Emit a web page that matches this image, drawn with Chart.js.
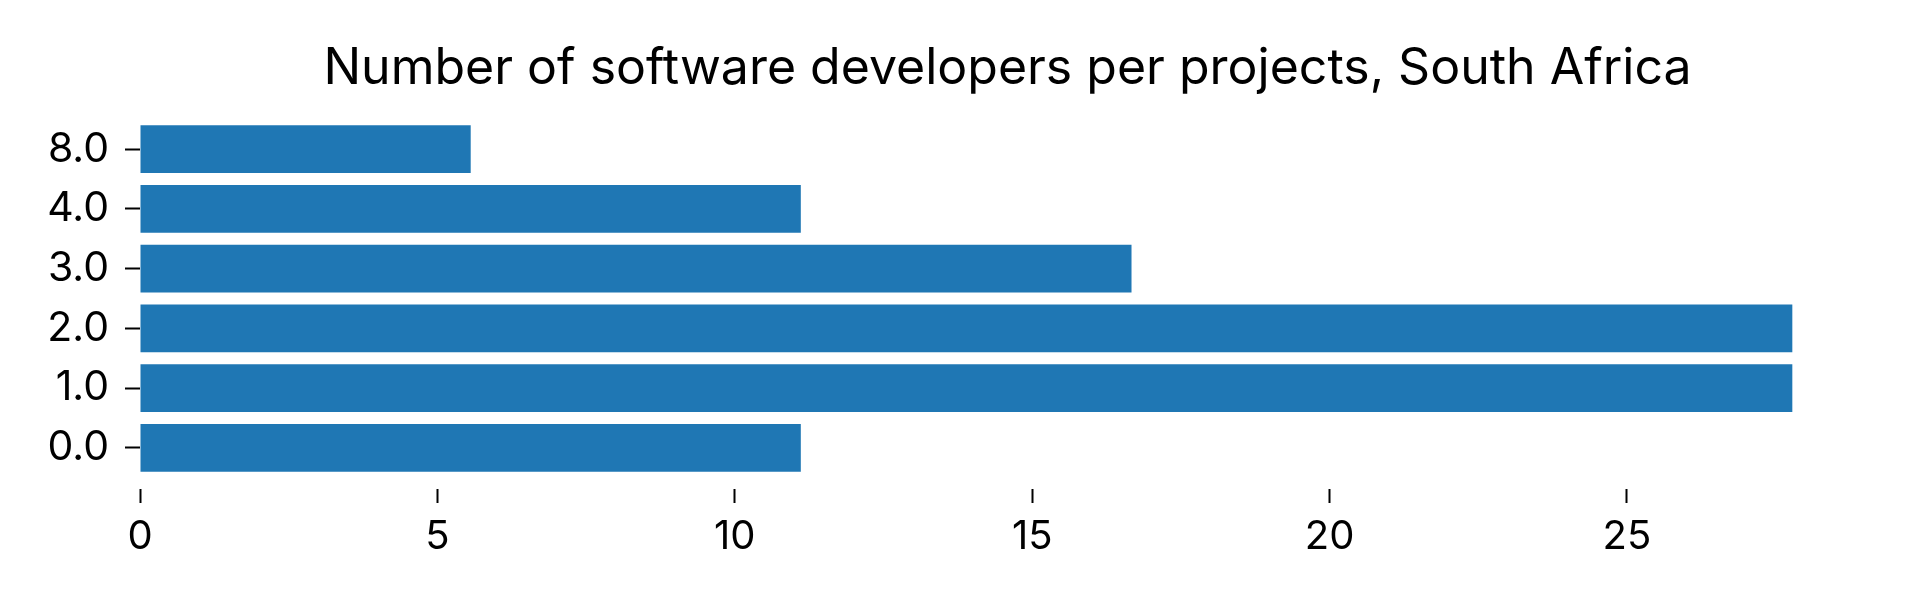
<!DOCTYPE html>
<html>
<head>
<meta charset="utf-8">
<script src="https://cdn.jsdelivr.net/npm/chart.js@4.4.0/dist/chart.umd.min.js"></script>
<style>
    html, body { margin: 0; padding: 0; background: #fff; }
    #wrap { width: 1920px; height: 600px; }
</style>
</head>
<body>
<div id="wrap"><canvas id="chart" width="1920" height="600"></canvas></div>
<script>
// Data (share of developers, %)
const categories = ['0.0', '1.0', '2.0', '3.0', '4.0', '8.0'];
const values = [11.11, 27.78, 27.78, 16.67, 11.11, 5.56];
const xTicks = [0, 5, 10, 15, 20, 25];
const titleText = 'Number of software developers per projects, South Africa';

const FONT = 'Inter, "Noto Sans", sans-serif';

// bars placed at category index on a linear y axis (matplotlib-like margins)
const points = values.map((v, i) => ({ x: v, y: i }));

new Chart(document.getElementById('chart'), {
    type: 'bar',
    data: {
        datasets: [{
            data: points,
            backgroundColor: '#1f77b4',
            borderWidth: 0,
            categoryPercentage: 0.8,
            barPercentage: 1.0
        }]
    },
    options: {
        indexAxis: 'y',
        responsive: false,
        animation: false,
        layout: { padding: { left: 0, right: 45, top: 0, bottom: 0 } },
        plugins: {
            legend: { display: false },
            tooltip: { enabled: false },
            title: {
                display: true,
                text: titleText,
                fullSize: false,
                color: '#000',
                font: { family: FONT, size: 50, weight: 'normal' },
                padding: { top: 39, bottom: 9 }
            }
        },
        scales: {
            x: {
                type: 'linear',
                min: 0,
                max: 29.17,
                afterBuildTicks: s => { s.ticks = xTicks.map(v => ({ value: v })); },
                afterFit: s => { s.height = 111; },
                border: { display: false },
                grid: {
                    drawOnChartArea: false,
                    drawTicks: true,
                    tickLength: 14,
                    tickWidth: 2,
                    tickColor: '#000'
                },
                ticks: {
                    color: '#000',
                    padding: 10,
                    font: { family: FONT, size: 40 }
                }
            },
            y: {
                type: 'linear',
                offset: false,
                min: -0.69,
                max: categories.length - 1 + 0.69,
                afterBuildTicks: s => { s.ticks = categories.map((c, i) => ({ value: i })); },
                afterFit: s => { s.width = 140; },
                border: { display: false },
                grid: {
                    offset: false,
                    drawOnChartArea: false,
                    drawTicks: true,
                    tickLength: 15,
                    tickWidth: 2,
                    tickColor: '#000'
                },
                ticks: {
                    color: '#000',
                    padding: 16,
                    font: { family: FONT, size: 41 },
                    callback: (v, i) => categories[i]
                }
            }
        }
    }
});
</script>
</body>
</html>
